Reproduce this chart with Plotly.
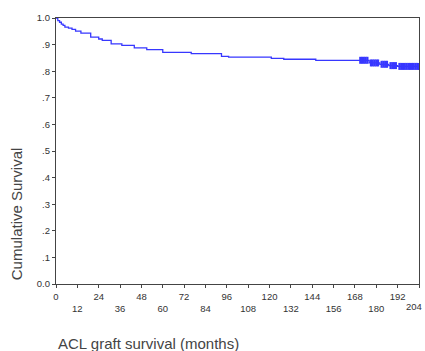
import numpy as np
import plotly.graph_objects as go

# Kaplan-Meier step data (months, cumulative survival)
event_months = [0, 1, 2, 3, 4, 5, 7, 9, 11, 14, 19.5, 24, 26, 31, 37, 44, 51, 60, 76, 93, 97,
                121, 128, 146, 176, 182, 187, 192, 205]
survival = [1.0, 0.99, 0.984, 0.977, 0.972, 0.966, 0.962, 0.957, 0.951, 0.943, 0.928, 0.921,
            0.916, 0.903, 0.897, 0.888, 0.881, 0.871, 0.866, 0.856, 0.853,
            0.848, 0.845, 0.841, 0.831, 0.826, 0.821, 0.818, 0.818]
censor_months = [171, 172, 173, 174, 175, 177, 178, 179, 180, 181, 183, 184, 185, 186,
                 188, 189, 190, 191, 193, 194, 195, 196, 197, 198, 199, 200, 201, 202, 203, 204]

x_tickvals = [0, 12, 24, 36, 48, 60, 72, 84, 96, 108, 120, 132, 144, 156, 168, 180, 192, 204]
x_ticklabels = [str(v) for v in x_tickvals]
y_tickvals = [0.0, 0.1, 0.2, 0.3, 0.4, 0.5, 0.6, 0.7, 0.8, 0.9, 1.0]
y_ticktext = ["0.0", ".1", ".2", ".3", ".4", ".5", ".6", ".7", ".8", ".9", "1.0"]

# alternate rows: odd multiples of 12 sit on a second line
x_ticktext = [lab if i % 2 == 0 else "<br>" + lab for i, lab in enumerate(x_ticklabels)]
last_label = x_ticktext[-1].replace("<br>", "")
x_ticktext[-1] = "<br>"  # drawn below as an annotation so it stays inside the canvas

em = np.array(event_months)
sv = np.array(survival)
censor_surv = [float(sv[np.searchsorted(em, c, side="right") - 1]) for c in censor_months]

blue = "rgb(55,55,255)"
fig = go.Figure()
fig.add_trace(go.Scatter(x=event_months, y=survival, mode="lines", line_shape="hv",
                         line=dict(color=blue, width=1.3), hoverinfo="skip", cliponaxis=False))
fig.add_trace(go.Scatter(x=censor_months, y=censor_surv, mode="markers",
                         marker=dict(symbol="line-ns-open", size=5, color=blue,
                                     line=dict(color=blue, width=2.2)),
                         hoverinfo="skip"))

font_family = "Liberation Sans, Arial, sans-serif"
axis_font = dict(family=font_family, size=9.5, color="#333")
fig.update_layout(
    width=425, height=351,
    margin=dict(l=56, r=6, t=17.5, b=66.5),
    paper_bgcolor="white", plot_bgcolor="white",
    showlegend=False,
    xaxis=dict(range=[0, 204], tickvals=x_tickvals, ticktext=x_ticktext,
               showline=True, linecolor="#444", linewidth=1.3, mirror=True,
               ticks="outside", ticklen=3, tickcolor="#444", showgrid=False,
               zeroline=False, tickfont=axis_font, tickangle=0,
               ticklabeloverflow="allow", automargin=False),
    yaxis=dict(range=[0, 1.0], tickvals=y_tickvals, ticktext=y_ticktext,
               showline=True, linecolor="#444", linewidth=1.3, mirror=True,
               ticks="outside", ticklen=3, tickcolor="#444", showgrid=False,
               zeroline=False, tickfont=axis_font, automargin=False),
    annotations=[
        dict(text="Cumulative Survival", xref="paper", yref="paper",
             x=-0.109, y=0.264, xanchor="center", yanchor="middle", textangle=-90,
             showarrow=False, font=dict(family=font_family, size=15, color="#444")),
        dict(text="ACL graft survival (months)", xref="paper", yref="paper",
             x=0.0, y=-0.223, xanchor="left", yanchor="middle",
             showarrow=False, font=dict(family=font_family, size=15, color="#444")),
        dict(text=last_label, xref="x", yref="paper", x=x_tickvals[-1], y=-0.084,
             xanchor="center", yanchor="middle", xshift=-5, showarrow=False,
             font=axis_font),
    ],
)
fig.write_html("out.html", config={"displayModeBar": False},
               post_script="document.body.style.margin='0';")
